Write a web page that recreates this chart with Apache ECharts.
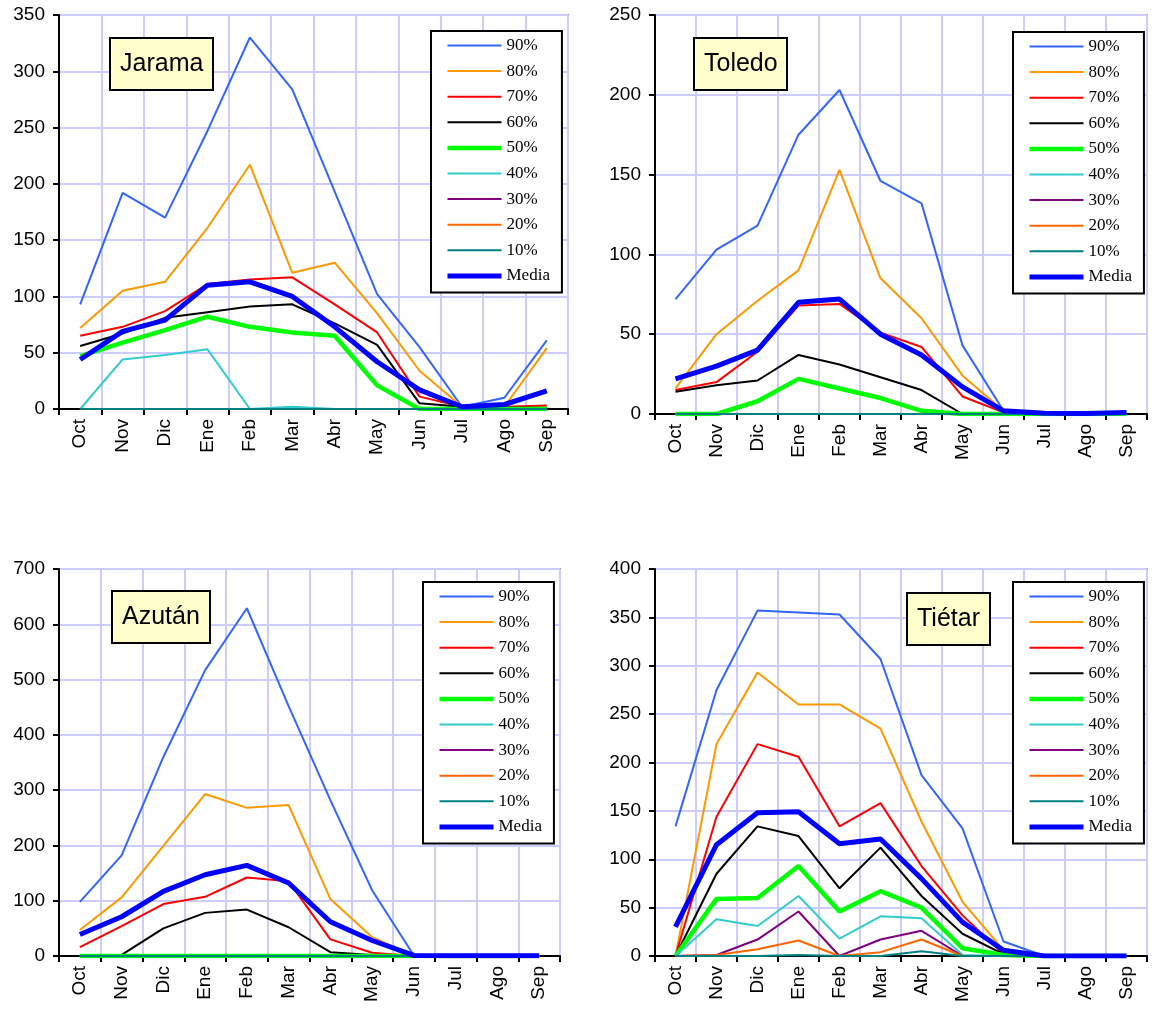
<!DOCTYPE html>
<html>
<head>
<meta charset="utf-8">
<script src="https://cdn.jsdelivr.net/npm/echarts@6/dist/echarts.min.js"></script>
<style>html,body{margin:0;padding:0;background:#fff;}#c{width:1157px;height:1012px;}</style>
</head>
<body>
<div id="c"></div>
<script>
const months = ['Oct','Nov','Dic','Ene','Feb','Mar','Abr','May','Jun','Jul','Ago','Sep'];
const seriesNames = ['90%','80%','70%','60%','50%','40%','30%','20%','10%','Media'];
const panelTitles = ['Jarama','Toledo','Azután','Tiétar'];
const yMax = [350, 250, 700, 400];
const yStep = [50, 50, 100, 50];

// Jarama
const jarama90 = [93, 192, 170, 247, 330, 284, 193, 102, 55, 2, 10, 61];
const jarama80 = [72, 105, 113, 161, 217, 121, 130, 85, 34, 2, 2, 54];
const jarama70 = [65, 73, 87, 111, 115, 117, 93, 68, 11, 2, 2, 3];
const jarama60 = [56, 67, 81, 86, 91, 93, 76, 57, 5, 2, 1, 1];
const jarama50 = [47, 59, 70, 82, 73, 68, 65, 21, 0, 0, 0, 0];
const jarama40 = [0, 44, 48, 53, 0, 2, 0, 0, 0, 0, 0, 0];
const jarama30 = [0, 0, 0, 0, 0, 0, 0, 0, 0, 0, 0, 0];
const jarama20 = [0, 0, 0, 0, 0, 0, 0, 0, 0, 0, 0, 0];
const jarama10 = [0, 0, 0, 0, 0, 0, 0, 0, 0, 0, 0, 0];
const jaramaMedia = [44, 69, 79, 110, 113, 100, 73, 42, 17, 2, 4, 16];

// Toledo
const toledo90 = [72, 103, 118, 175, 203, 146, 132, 43, 2, 0, 0, 1];
const toledo80 = [16, 50, 71, 90, 153, 85, 60, 24, 2, 0, 0, 0];
const toledo70 = [15, 20, 39, 68, 69, 51, 42, 11, 1, 0, 0, 0];
const toledo60 = [14, 18, 21, 37, 31, 23, 15, 0, 0, 0, 0, 0];
const toledo50 = [0, 0, 8, 22, 16, 10, 2, 0, 0, 0, 0, 0];
const toledo40 = [0, 0, 0, 0, 0, 0, 0, 0, 0, 0, 0, 0];
const toledo30 = [0, 0, 0, 0, 0, 0, 0, 0, 0, 0, 0, 0];
const toledo20 = [0, 0, 0, 0, 0, 0, 0, 0, 0, 0, 0, 0];
const toledo10 = [0, 0, 0, 0, 0, 0, 0, 0, 0, 0, 0, 0];
const toledoMedia = [22, 30, 40, 70, 72, 50, 37, 17, 2, 0.5, 0.3, 1];

// Azután
const azutan90 = [98, 182, 360, 517, 629, 452, 282, 119, 1, 0, 0, 0];
const azutan80 = [47, 106, 199, 293, 268, 273, 103, 34, 1, 0, 0, 0];
const azutan70 = [16, 54, 94, 107, 142, 135, 30, 6, 0, 0, 0, 0];
const azutan60 = [0, 2, 50, 78, 84, 52, 7, 2, 0, 0, 0, 0];
const azutan50 = [0, 0, 0, 0, 0, 0, 0, 0, 0, 0, 0, 0];
const azutan40 = [0, 0, 0, 0, 0, 0, 0, 0, 0, 0, 0, 0];
const azutan30 = [0, 0, 0, 0, 0, 0, 0, 0, 0, 0, 0, 0];
const azutan20 = [0, 0, 0, 0, 0, 0, 0, 0, 0, 0, 0, 0];
const azutan10 = [0, 0, 0, 0, 0, 0, 0, 0, 0, 0, 0, 0];
const azutanMedia = [39, 71, 117, 147, 164, 132, 62, 28, 1, 0.5, 0.5, 0.5];

// Tiétar
const tietar90 = [134, 275, 357, 355, 353, 307, 187, 132, 15, 0, 0, 0];
const tietar80 = [0, 219, 293, 260, 260, 235, 139, 56, 6, 0, 0, 0];
const tietar70 = [0, 144, 219, 206, 134, 158, 93, 42, 2, 0, 0, 0];
const tietar60 = [0, 85, 134, 124, 70, 112, 62, 23, 2, 0, 0, 0];
const tietar50 = [0, 59, 60, 93, 46, 67, 50, 8, 1, 0, 0, 0];
const tietar40 = [0, 38, 31, 62, 18, 41, 39, 1, 0, 0, 0, 0];
const tietar30 = [0, 1, 17, 46, 0, 17, 26, 0, 0, 0, 0, 0];
const tietar20 = [0, 1, 7, 16, 0, 4, 17, 0, 0, 0, 0, 0];
const tietar10 = [0, 0, 0, 1, 0, 0, 5, 0, 0, 0, 0, 0];
const tietarMedia = [30, 115, 148, 149, 116, 121, 80, 35, 6, 0, 0, 0];

const panelData = [
  [jarama90, jarama80, jarama70, jarama60, jarama50, jarama40, jarama30, jarama20, jarama10, jaramaMedia],
  [toledo90, toledo80, toledo70, toledo60, toledo50, toledo40, toledo30, toledo20, toledo10, toledoMedia],
  [azutan90, azutan80, azutan70, azutan60, azutan50, azutan40, azutan30, azutan20, azutan10, azutanMedia],
  [tietar90, tietar80, tietar70, tietar60, tietar50, tietar40, tietar30, tietar20, tietar10, tietarMedia]
];

const colors = ['#3366ff','#ff9900','#ff0000','#000000','#00ff00','#33cccc','#800080','#ff6600','#008080','#0000ff'];
const widths = [2,2,2,2,4.5,2,2,2,2,5];

const grids = [
  {left: 59, top: 15, width: 509, height: 394},
  {left: 655, top: 15, width: 492, height: 399},
  {left: 59, top: 569, width: 501, height: 387},
  {left: 655, top: 569, width: 492, height: 387}
];
const titlePos = [[110,38],[694,38],[112,591],[907,593]];
const legendPos = [[431,31],[1013,32],[423,582],[1013,582]];

const option = {
  animation: false,
  grid: grids.map(g => Object.assign({show: true, borderColor: '#999999', borderWidth: 2, backgroundColor: 'transparent'}, g)),
  title: panelTitles.map((t, i) => ({
    text: t, left: titlePos[i][0], top: titlePos[i][1],
    backgroundColor: '#ffffcc', borderColor: '#000', borderWidth: 2,
    padding: [14, 10, 13, 10],
    textStyle: {fontFamily: 'Arial, Liberation Sans', fontSize: 25, fontWeight: 'normal', color: '#000'}
  })),
  legend: legendPos.map(p => ({
    data: seriesNames, left: p[0], top: p[1], orient: 'vertical',
    backgroundColor: '#fff', borderColor: '#000', borderWidth: 2,
    padding: [6, 12, 8, 14], itemWidth: 54, itemHeight: 16, itemGap: 8.6,
    lineStyle: {width: 'inherit'},
    itemStyle: {opacity: 0},
    textStyle: {fontFamily: 'Liberation Serif, Times New Roman, serif', fontSize: 17, color: '#000', lineHeight: 16},
    selectedMode: false
  })),
  xAxis: grids.map((g, i) => ({
    type: 'category', gridIndex: i, data: months, boundaryGap: true,
    axisLine: {lineStyle: {color: '#000', width: 2}},
    axisTick: {show: true, interval: 0, length: 6, lineStyle: {color: '#000', width: 2}},
    splitLine: {show: true, interval: 0, lineStyle: {color: '#ccccff', width: 2}},
    axisLabel: {rotate: 90, interval: 0, fontFamily: 'Arial, Liberation Sans', fontSize: 19, color: '#000', margin: 10}
  })),
  yAxis: grids.map((g, i) => ({
    type: 'value', gridIndex: i, min: 0, max: yMax[i], interval: yStep[i],
    axisLine: {show: true, lineStyle: {color: '#000', width: 2}},
    axisTick: {show: true, length: 6, lineStyle: {color: '#000', width: 2}},
    splitLine: {show: true, lineStyle: {color: '#ccccff', width: 2}},
    axisLabel: {fontFamily: 'Arial, Liberation Sans', fontSize: 19, color: '#000', margin: 14}
  })),
  series: []
};

panelData.forEach((arrs, p) => {
  arrs.forEach((vals, k) => {
    option.series.push({
      type: 'line', name: seriesNames[k], xAxisIndex: p, yAxisIndex: p,
      data: vals, symbol: 'none', smooth: false,
      lineStyle: {color: colors[k], width: widths[k]},
      itemStyle: {color: colors[k]},
      emphasis: {disabled: true}
    });
  });
});

const chart = echarts.init(document.getElementById('c'), null, {renderer: 'canvas'});
chart.setOption(option);
</script>
</body>
</html>
